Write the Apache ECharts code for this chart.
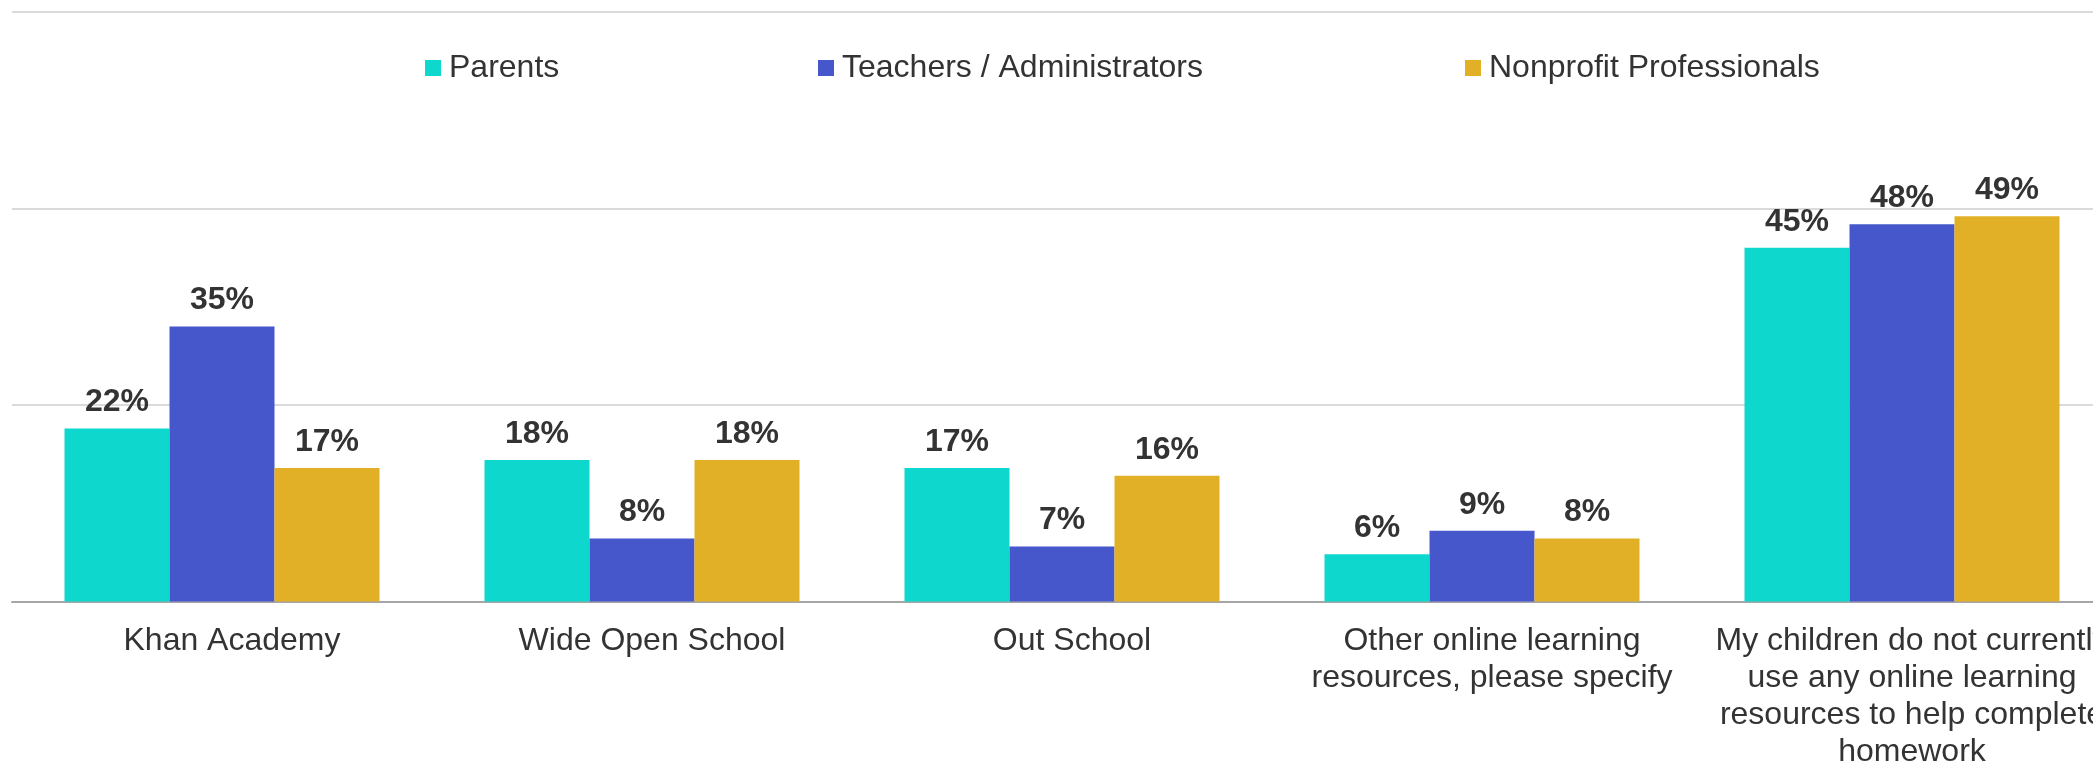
<!DOCTYPE html>
<html>
<head>
<meta charset="utf-8">
<script src="https://cdn.jsdelivr.net/npm/echarts@6/dist/echarts.min.js"></script>
<style>
  html, body { margin: 0; padding: 0; background: #ffffff; }
  #chart { width: 2093px; height: 762px; }
</style>
</head>
<body>
<div id="chart"></div>
<script>
const categories = [
  'Khan Academy',
  'Wide Open School',
  'Out School',
  'Other online learning\nresources, please specify',
  'My children do not currently\nuse any online learning\nresources to help complete\nhomework'
];
const seriesNames = ['Parents', 'Teachers / Administrators', 'Nonprofit Professionals'];
const parents = [22, 18, 17, 6, 45];
const teachers = [35, 8, 7, 9, 48];
const nonprofit = [17, 18, 16, 8, 49];
const yTicks = [0, 25, 50, 75];

const colors = ['#0ED8CE', '#4657CC', '#E1B026'];
const textColor = '#333333';
const fontFamily = '"Liberation Sans", Arial, sans-serif';

const chart = echarts.init(document.getElementById('chart'), null, { renderer: 'canvas' });

function legendAt(name, left) {
  return {
    data: [name],
    left: left,
    top: 52,
    padding: 0,
    itemWidth: 16,
    itemHeight: 16,
    icon: 'rect',
    selectedMode: false,
    textStyle: { fontFamily: fontFamily, fontSize: 32, color: textColor, padding: [0, 0, 0, 3] }
  };
}

const dataSets = [parents, teachers, nonprofit];

chart.setOption({
  animation: false,
  backgroundColor: '#ffffff',
  color: colors,
  legend: [
    legendAt(seriesNames[0], 425),
    legendAt(seriesNames[1], 818),
    legendAt(seriesNames[2], 1465)
  ],
  grid: { left: 12, top: 12, width: 2100, height: 589.5, containLabel: false, outerBoundsMode: 'none' },
  xAxis: {
    type: 'category',
    data: categories,
    axisLine: { show: true, lineStyle: { color: '#A6A6A6', width: 2 } },
    axisTick: { show: false },
    axisLabel: {
      interval: 0,
      margin: 21,
      fontFamily: fontFamily,
      fontSize: 32,
      lineHeight: 37,
      color: textColor,
      align: 'center',
      padding: [0, 0, 0, 20]
    }
  },
  yAxis: {
    type: 'value',
    min: yTicks[0],
    max: yTicks[yTicks.length - 1],
    interval: 25,
    axisLine: { show: false },
    axisTick: { show: false },
    axisLabel: { show: false },
    splitLine: { show: true, lineStyle: { color: '#DADADA', width: 2 } }
  },
  series: seriesNames.map((name, i) => ({
    name: name,
    type: 'bar',
    data: dataSets[i],
    barGap: '0%',
    barCategoryGap: '25%',
    itemStyle: { color: colors[i] },
    label: {
      show: true,
      position: 'top',
      distance: 10,
      formatter: '{c}%',
      fontFamily: fontFamily,
      fontSize: 32,
      fontWeight: 'bold',
      color: textColor
    }
  }))
});
</script>
</body>
</html>
